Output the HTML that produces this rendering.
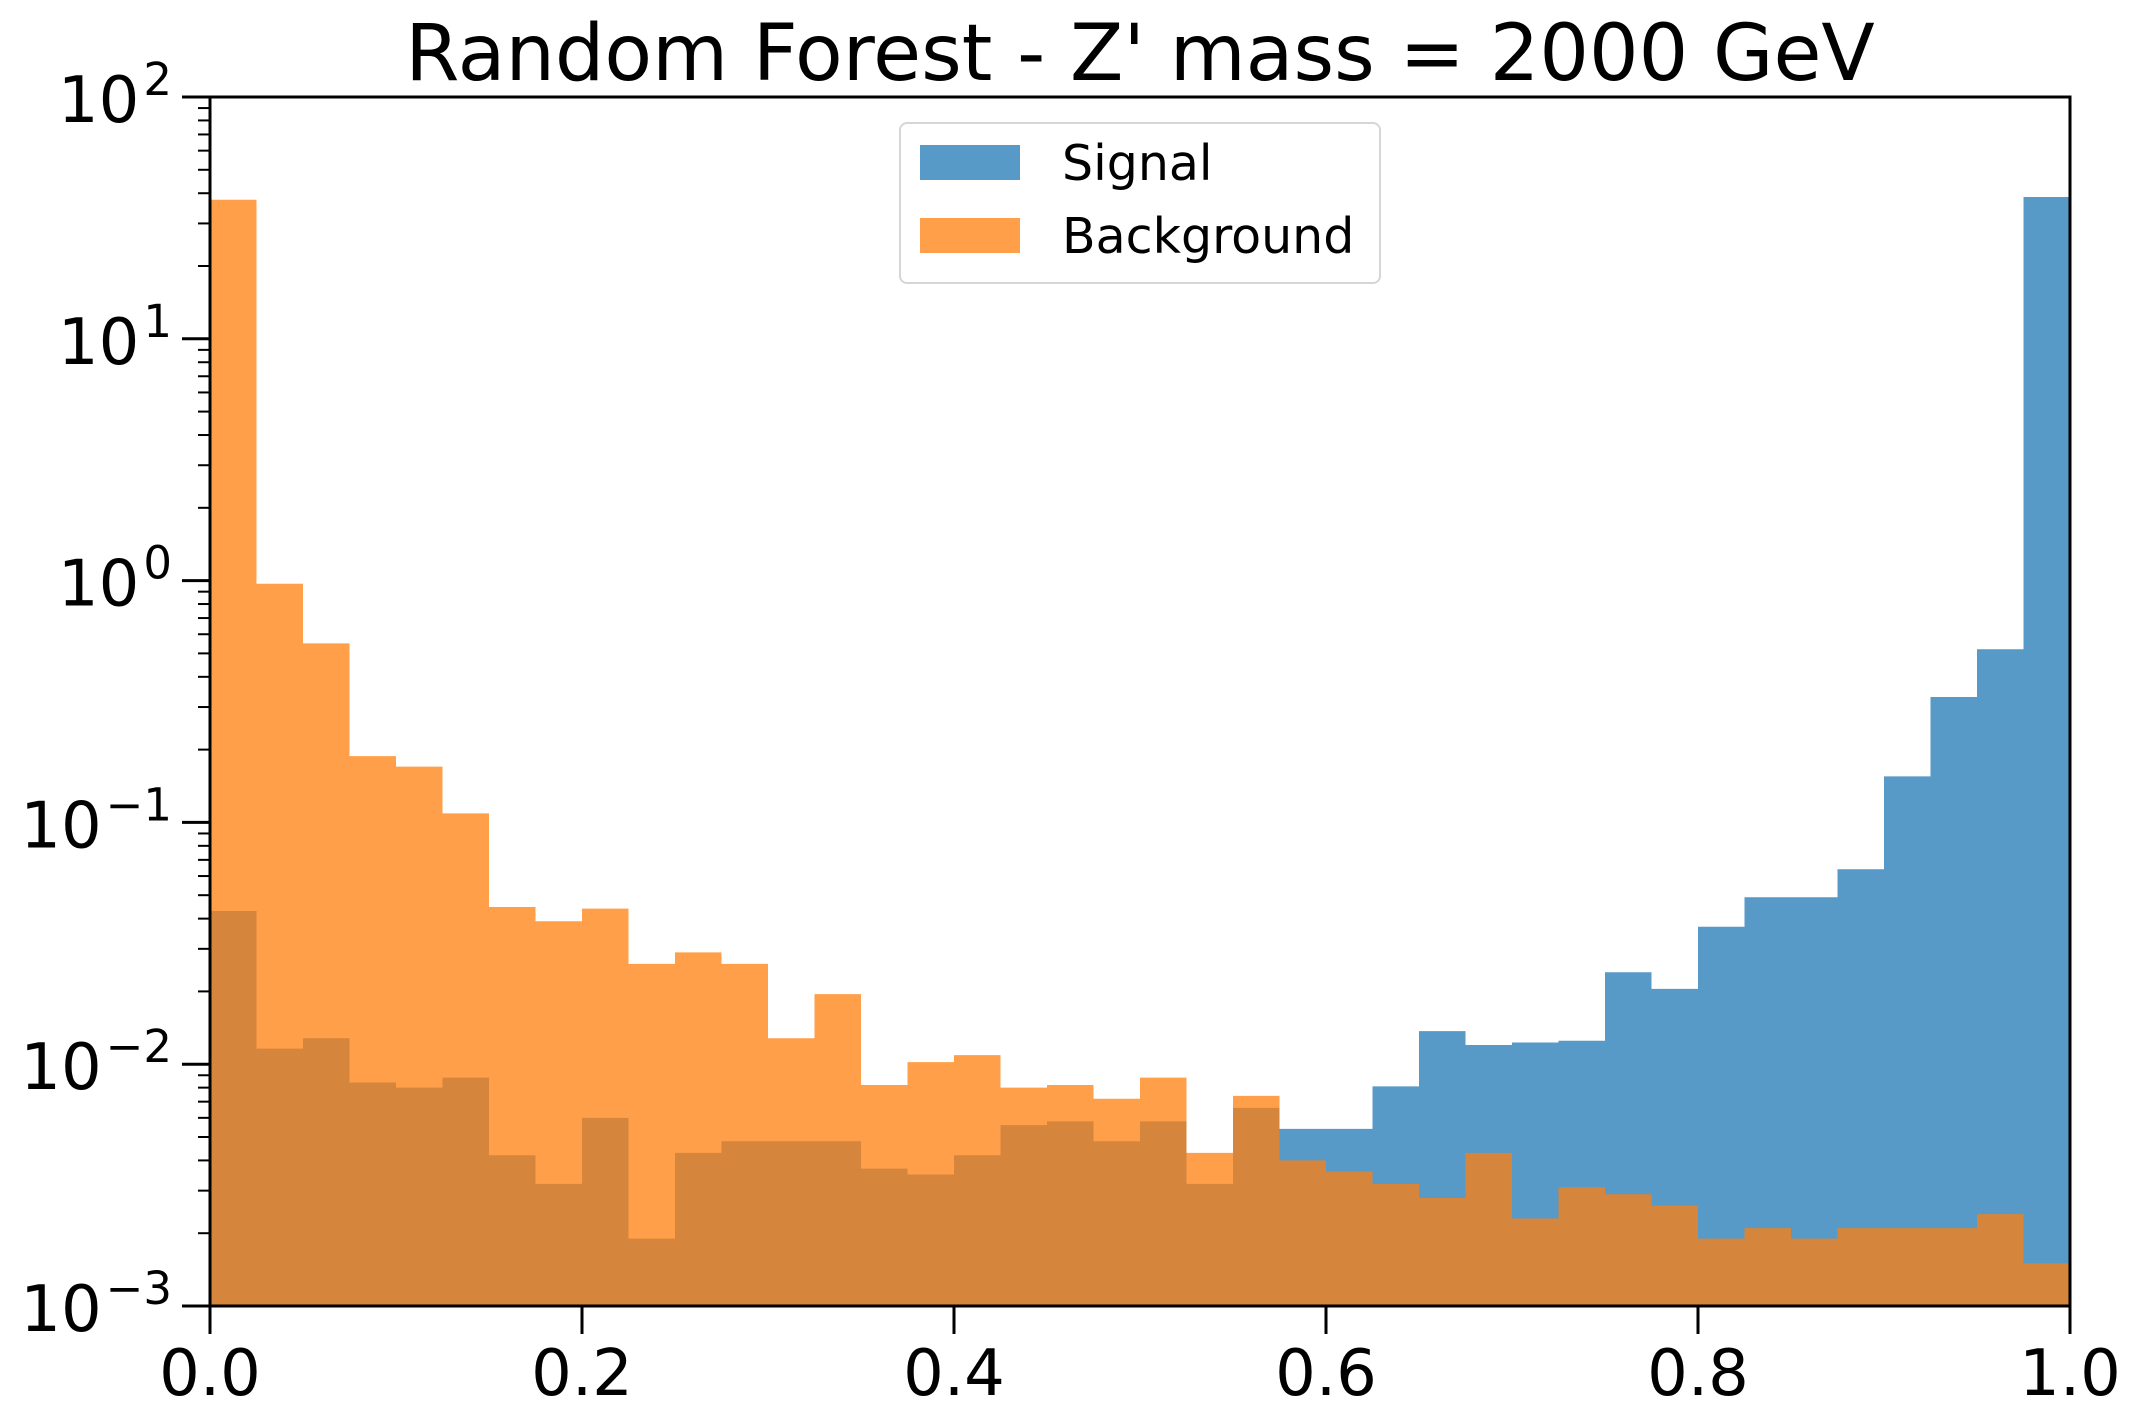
<!DOCTYPE html>
<html><head><meta charset="utf-8"><style>
html,body{margin:0;padding:0;background:#fff;}
svg{display:block;font-family:"DejaVu Sans","Liberation Sans",sans-serif;}
</style></head><body>
<svg id="chart" width="2142" height="1426" viewBox="0 0 2142 1426" xmlns="http://www.w3.org/2000/svg">
<text x="1140" y="80" font-size="78" text-anchor="middle">Random Forest - Z' mass = 2000 GeV</text>
<g id="bars"></g>
<g id="axes"></g>
<g>
<rect x="900" y="123" width="480" height="160" rx="7" fill="#fff" fill-opacity="0.8" stroke="#d6d6d6" stroke-width="2"/>
<rect x="920" y="145" width="100" height="35" fill="#1f77b4" fill-opacity="0.75"/>
<text x="1062" y="180" font-size="49">Signal</text>
<rect x="920" y="218" width="100" height="35" fill="#ff7f0e" fill-opacity="0.75"/>
<text x="1062" y="253" font-size="49">Background</text>
</g>
</svg>
<script>
const binEdgesStart = 0.0;
const binWidth = 0.025;
const signalValues = [0.043,0.0116,0.0128,0.0084,0.0080,0.0088,0.0042,0.0032,0.0060,0.0019,
0.0043,0.0048,0.0048,0.0048,0.0037,0.0035,0.0042,0.0056,0.0058,0.0048,
0.0058,0.0032,0.0066,0.0054,0.0054,0.0081,0.0137,0.0120,0.0123,0.0125,
0.024,0.0205,0.037,0.049,0.049,0.064,0.155,0.33,0.52,38.6];
const backgroundValues = [37.6,0.97,0.55,0.188,0.17,0.109,0.0447,0.039,0.044,0.026,
0.029,0.026,0.0128,0.0195,0.0082,0.0102,0.0109,0.0080,0.0082,0.0072,
0.0088,0.0043,0.0074,0.0040,0.0036,0.0032,0.0028,0.0043,0.0023,0.0031,
0.0029,0.0026,0.0019,0.0021,0.0019,0.0021,0.0021,0.0021,0.0024,0.0015];
const xTicks = [0.0,0.2,0.4,0.6,0.8,1.0];
const xTickLabels = ["0.0","0.2","0.4","0.6","0.8","1.0"];
const yDecades = [-3,-2,-1,0,1,2];
const yTickExps = ["\u22123","\u22122","\u22121","0","1","2"];

const L=210,R=2070,T=97,B=1306;
const yMin=-3,yMax=2;
function xs(v){return L+(v-0)/(1-0)*(R-L);}
function ys(v){return B-(Math.log10(v)-yMin)/(yMax-yMin)*(B-T);}
const NS="http://www.w3.org/2000/svg";
function mk(tag,attrs,parent){const e=document.createElementNS(NS,tag);for(const k in attrs)e.setAttribute(k,attrs[k]);parent.appendChild(e);return e;}
const bars=document.getElementById('bars');
function stepPath(vals){
  let d='M'+xs(binEdgesStart)+','+B;
  vals.forEach((v,i)=>{
    const x0=xs(binEdgesStart+i*binWidth),x1=xs(binEdgesStart+(i+1)*binWidth),y=ys(v);
    d+=' L'+x0+','+y+' L'+x1+','+y;
  });
  d+=' L'+xs(binEdgesStart+vals.length*binWidth)+','+B+' Z';
  return d;
}
const sp=mk('path',{d:stepPath(signalValues),fill:'#1f77b4','fill-opacity':0.75},bars);


const bp=mk('path',{d:stepPath(backgroundValues),fill:'#ff7f0e','fill-opacity':0.75},bars);


const ax=document.getElementById('axes');
const frame=mk('rect',{x:L,y:T,width:R-L,height:B-T,fill:'none',stroke:'#000','stroke-width':3},ax);


xTicks.forEach((v,i)=>{
  const x=xs(v);
  const t=mk('line',{x1:x,x2:x,y1:B,y2:B+28,stroke:'#000','stroke-width':3},ax);
  
  
  const lb=mk('text',{x:x,y:1395,'font-size':64,'text-anchor':'middle'},ax);
  lb.textContent=xTickLabels[i];
  
  
});
yDecades.forEach((d,i)=>{
  const y=ys(Math.pow(10,d));
  const t=mk('line',{x1:L-28,x2:L,y1:y,y2:y,stroke:'#000','stroke-width':3},ax);
  
  
  const lb=mk('text',{x:172,y:y+25,'font-size':64,'text-anchor':'end'},ax);
  
  
  const a=mk('tspan',{},lb);a.textContent='10';
  const b=mk('tspan',{'font-size':45,dy:-27,dx:4},lb);b.textContent=yTickExps[i];
  if(d<yMax){
    for(let m=2;m<=9;m++){
      const ym=ys(m*Math.pow(10,d));
      const mt=mk('line',{x1:L-12,x2:L,y1:ym,y2:ym,stroke:'#000','stroke-width':2},ax);
      
      
    }
  }
});
</script>
</body></html>
